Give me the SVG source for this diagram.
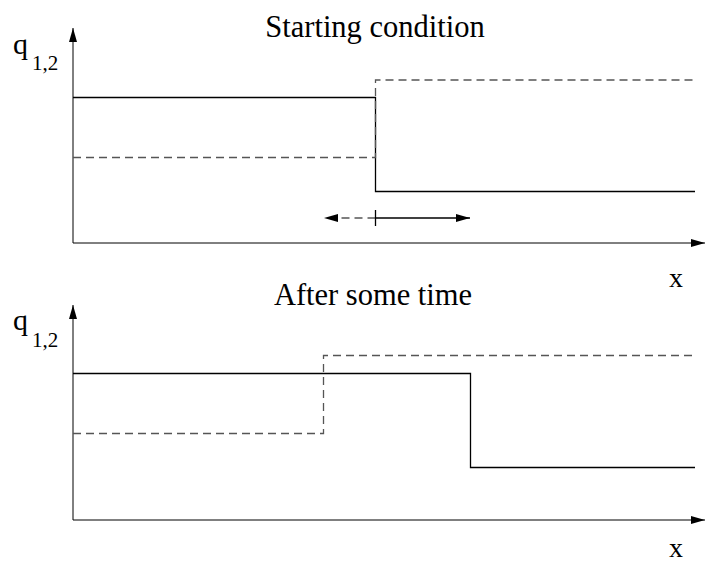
<svg xmlns="http://www.w3.org/2000/svg" width="705" height="563" viewBox="0 0 705 563">
  <style>
    text { font-family: 'Liberation Serif', 'DejaVu Serif', 'Noto Serif', serif; fill: #000; }
    .title { font-size: 30.5px; text-anchor: middle; }
    .axis { stroke: #000; stroke-width: 1; fill: none; }
    .solid { stroke: #000; stroke-width: 1.3; fill: none; }
    .dash { stroke: #555; stroke-width: 1.3; fill: none; stroke-dasharray: 8 5; }
  </style>
  <defs>
    <marker id="ah" viewBox="0 0 14 8" refX="14" refY="4" markerWidth="14" markerHeight="8" markerUnits="userSpaceOnUse" orient="auto">
      <path d="M0,0 L14,4 L0,8 Z" fill="#000"/>
    </marker>
  </defs>

  <rect width="705" height="563" fill="#fff"/>

  <!-- upper panel: starting condition -->
  <g id="plot-start">
    <text class="title" x="375" y="37">Starting condition</text>
    <text x="13" y="54" font-size="30">q</text>
    <text x="32" y="70" font-size="21">1,2</text>
    <text x="669" y="287" font-size="28">x</text>
    <line class="axis" x1="73" y1="243" x2="73" y2="28" marker-end="url(#ah)"/>
    <line class="axis" x1="73" y1="243" x2="705" y2="243" marker-end="url(#ah)"/>
    <polyline class="solid" points="73,97.5 375.5,97.5 375.5,191.5 695,191.5"/>
    <polyline class="dash" points="73,157.5 375.5,157.5 375.5,80 695,80"/>
  </g>

  <!-- shock propagation arrows -->
  <g id="connectors">
    <line class="dash" x1="375.5" y1="218" x2="324" y2="218" stroke="#000" marker-end="url(#ah)"/>
    <line class="solid" x1="375.5" y1="218" x2="470" y2="218" stroke-width="1" marker-end="url(#ah)"/>
    <line class="solid" x1="375.5" y1="210" x2="375.5" y2="226" stroke-width="1"/>
  </g>

  <!-- lower panel: after some time -->
  <g id="plot-later">
    <text class="title" x="373" y="305">After some time</text>
    <text x="13" y="330" font-size="30">q</text>
    <text x="32" y="347" font-size="21">1,2</text>
    <text x="669" y="557" font-size="28">x</text>
    <line class="axis" x1="73" y1="520" x2="73" y2="305" marker-end="url(#ah)"/>
    <line class="axis" x1="73" y1="520" x2="705" y2="520" marker-end="url(#ah)"/>
    <polyline class="solid" points="73,373.5 470.5,373.5 470.5,467.5 695,467.5"/>
    <polyline class="dash" points="73,433.5 323.5,433.5 323.5,355.5 695,355.5"/>
  </g>
</svg>
